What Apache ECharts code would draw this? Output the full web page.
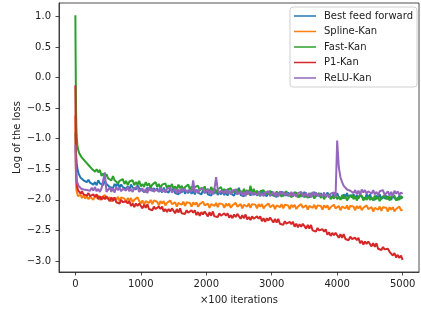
<!DOCTYPE html>
<html>
<head>
<meta charset="utf-8">
<script src="https://cdn.jsdelivr.net/npm/echarts@6/dist/echarts.min.js"></script>
<style>html,body{margin:0;padding:0;background:#fff}#c{width:421px;height:312px}</style>
</head>
<body>
<div id="c"></div>
<script>
const iterations = [0,5,10,15,20,30,40,50,60,80,100,125,150,175,200,225,
250,275,300,325,350,375,400,425,450,475,500,525,550,575,600,625,650,675,700,725,
750,775,800,825,850,875,900,925,950,975,1000,1025,1050,1075,1100,1125,1150,1175,1200,1225,
1250,1275,1300,1325,1350,1375,1400,1425,1450,1475,1500,1525,1550,1575,1600,1625,1650,1675,1700,1725,
1750,1775,1800,1825,1850,1875,1900,1925,1950,1975,2000,2025,2050,2075,2100,2125,2150,2175,2200,2225,
2250,2275,2300,2325,2350,2375,2400,2425,2450,2475,2500,2525,2550,2575,2600,2625,2650,2675,2700,2725,
2750,2775,2800,2825,2850,2875,2900,2925,2950,2975,3000,3025,3050,3075,3100,3125,3150,3175,3200,3225,
3250,3275,3300,3325,3350,3375,3400,3425,3450,3475,3500,3525,3550,3575,3600,3625,3650,3675,3700,3725,
3750,3775,3800,3825,3850,3875,3900,3925,3950,3975,4000,4025,4050,4075,4100,4125,4150,4175,4200,4225,
4250,4275,4300,4325,4350,4375,4400,4425,4450,4475,4500,4525,4550,4575,4600,4625,4650,4675,4700,4725,
4750,4775,4800,4825,4850,4875,4900,4925,4950,4975,5000];

const bestFeedForward = [-0.9,-1.1,-1.25,-1.33,-1.4,-1.48,-1.53,-1.57,-1.6,-1.64,-1.62,-1.68,-1.65,-1.71,-1.67,-1.72,
-1.69,-1.75,-1.71,-1.76,-1.68,-1.73,-1.70,-1.76,-1.69,-1.74, -1.72,-1.79,-1.76,-1.81,-1.74,-1.78,-1.72,-1.80,-1.75,-1.79,
-1.76,-1.82,-1.78,-1.83,-1.75,-1.80,-1.77,-1.83,-1.76,-1.81, -1.78,-1.85,-1.82,-1.87,-1.80,-1.84,-1.78,-1.86,-1.81,-1.85,
-1.81,-1.87,-1.83,-1.88,-1.80,-1.85,-1.82,-1.88,-1.81,-1.86, -1.82,-1.89,-1.86,-1.91,-1.84,-1.88,-1.82,-1.90,-1.85,-1.89,
-1.84,-1.90,-1.86,-1.91,-1.83,-1.88,-1.85,-1.91,-1.84,-1.89, -1.84,-1.91,-1.88,-1.93,-1.86,-1.90,-1.84,-1.92,-1.87,-1.91,
-1.86,-1.92,-1.88,-1.93,-1.85,-1.90,-1.87,-1.93,-1.86,-1.91, -1.80,-1.92,-1.89,-1.94,-1.87,-1.91,-1.85,-1.93,-1.88,-1.92,
-1.87,-1.93,-1.89,-1.94,-1.86,-1.91,-1.88,-1.94,-1.87,-1.92, -1.86,-1.93,-1.90,-1.95,-1.88,-1.92,-1.86,-1.94,-1.89,-1.93,
-1.88,-1.94,-1.90,-1.95,-1.87,-1.92,-1.89,-1.95,-1.88,-1.93, -1.87,-1.94,-1.91,-1.96,-1.89,-1.93,-1.87,-1.95,-1.90,-1.94,
-1.89,-1.95,-1.91,-1.96,-1.88,-1.93,-1.90,-1.96,-1.89,-1.94, -1.89,-1.96,-1.93,-1.98,-1.91,-1.95,-1.89,-1.97,-1.92,-1.96,
-1.91,-1.97,-1.93,-1.98,-1.90,-1.95,-1.92,-1.98,-1.91,-1.96, -1.91,-1.98,-1.95,-2.00,-1.93,-1.97,-1.91,-1.99,-1.94,-1.98,
-1.93,-1.99,-1.95,-2.00,-1.92,-1.97,-1.94,-2.00,-1.93,-1.98,-1.95];

const splineKan = [-0.62,-1.3,-1.7,-1.82,-1.86,-1.9,-1.94,-1.91,-1.96,-1.92,-1.97,-1.93,-1.98,-1.94,-1.99,-1.95,
-1.94,-2.00,-1.93,-1.97,-1.93,-2.00,-1.96,-1.99,-1.92,-1.98, -2.01,-1.96,-2.03,-1.97,-1.95,-2.00,-1.95,-2.02,-1.96,-1.99,
-1.98,-2.04,-1.97,-2.01,-1.97,-2.04,-2.00,-2.03,-1.96,-2.02, -2.06,-2.01,-2.08,-2.02,-2.00,-2.05,-2.00,-2.07,-2.01,-2.04,
-2.03,-2.09,-2.02,-2.06,-2.02,-2.09,-2.05,-2.08,-2.01,-2.07, -2.09,-2.04,-2.11,-2.05,-2.03,-2.08,-2.03,-2.10,-2.04,-2.07,
-2.05,-2.11,-2.04,-2.08,-2.04,-2.11,-2.07,-2.10,-2.03,-2.09, -2.11,-2.06,-2.13,-2.07,-2.05,-2.10,-2.05,-2.12,-2.06,-2.09,
-2.07,-2.13,-2.06,-2.10,-2.06,-2.13,-2.09,-2.12,-2.05,-2.11, -2.12,-2.07,-2.14,-2.08,-2.06,-2.11,-2.06,-2.13,-2.07,-2.10,
-2.08,-2.14,-2.07,-2.11,-2.07,-2.14,-2.10,-2.13,-2.06,-2.12, -2.13,-2.08,-2.15,-2.09,-2.07,-2.12,-2.07,-2.14,-2.08,-2.11,
-2.09,-2.15,-2.08,-2.12,-2.08,-2.15,-2.11,-2.14,-2.07,-2.13, -2.14,-2.09,-2.16,-2.10,-2.08,-2.13,-2.08,-2.15,-2.09,-2.12,
-2.10,-2.16,-2.09,-2.13,-2.09,-2.16,-2.12,-2.15,-2.08,-2.14, -2.15,-2.10,-2.17,-2.11,-2.09,-2.14,-2.09,-2.16,-2.10,-2.13,
-2.11,-2.17,-2.10,-2.14,-2.10,-2.17,-2.13,-2.16,-2.09,-2.15, -2.17,-2.12,-2.19,-2.13,-2.11,-2.16,-2.11,-2.18,-2.12,-2.15,
-2.13,-2.19,-2.12,-2.16,-2.12,-2.19,-2.15,-2.18,-2.11,-2.17,-2.16];

const fastKan = [1.02,0.2,-0.5,-0.8,-0.95,-1.1,-1.17,-1.2,-1.24,-1.26,-1.31,-1.32,-1.37,-1.36,-1.43,-1.42,
-1.49,-1.46,-1.54,-1.50,-1.55,-1.51,-1.61,-1.57,-1.62,-1.58, -1.65,-1.62,-1.68,-1.61,-1.68,-1.65,-1.73,-1.69,-1.72,-1.66,
-1.74,-1.69,-1.76,-1.70,-1.73,-1.68,-1.76,-1.71,-1.75,-1.69, -1.78,-1.74,-1.79,-1.71,-1.77,-1.73,-1.80,-1.75,-1.78,-1.71,
-1.79,-1.74,-1.81,-1.75,-1.78,-1.73,-1.81,-1.76,-1.80,-1.74, -1.82,-1.78,-1.83,-1.75,-1.81,-1.77,-1.84,-1.79,-1.82,-1.75,
-1.83,-1.78,-1.85,-1.79,-1.82,-1.77,-1.85,-1.80,-1.84,-1.78, -1.86,-1.82,-1.87,-1.79,-1.85,-1.81,-1.88,-1.83,-1.86,-1.79,
-1.87,-1.82,-1.89,-1.83,-1.86,-1.81,-1.89,-1.84,-1.88,-1.82, -1.89,-1.85,-1.90,-1.82,-1.88,-1.84,-1.91,-1.77,-1.89,-1.82,
-1.90,-1.85,-1.92,-1.86,-1.89,-1.84,-1.92,-1.87,-1.91,-1.85, -1.93,-1.89,-1.94,-1.86,-1.92,-1.88,-1.95,-1.90,-1.93,-1.86,
-1.94,-1.89,-1.96,-1.90,-1.93,-1.88,-1.96,-1.91,-1.95,-1.89, -1.96,-1.92,-1.97,-1.89,-1.95,-1.91,-1.98,-1.93,-1.96,-1.89,
-1.97,-1.92,-1.99,-1.93,-1.96,-1.91,-1.99,-1.94,-1.98,-1.92, -1.99,-1.95,-2.00,-1.92,-1.98,-1.94,-2.01,-1.96,-1.99,-1.92,
-1.99,-1.94,-2.01,-1.95,-1.98,-1.93,-2.01,-1.96,-2.00,-1.94, -2.00,-1.96,-2.01,-1.93,-1.99,-1.95,-2.02,-1.97,-2.00,-1.93,
-1.99,-1.94,-2.01,-1.95,-1.98,-1.93,-2.01,-1.96,-2.00,-1.94,-1.97];

const p1Kan = [-0.13,-0.9,-1.3,-1.55,-1.7,-1.8,-1.84,-1.87,-1.84,-1.9,-1.86,-1.91,-1.88,-1.93,-1.89,-1.94,
-1.96,-1.91,-1.95,-1.91,-1.99,-1.94,-2.00,-1.95,-1.99,-1.94, -1.97,-2.02,-1.96,-2.02,-1.96,-2.04,-2.01,-2.06,-2.00,-2.04,
-2.07,-2.02,-2.06,-2.02,-2.10,-2.06,-2.12,-2.06,-2.10,-2.06, -2.09,-2.14,-2.08,-2.13,-2.07,-2.15,-2.12,-2.17,-2.11,-2.15,
-2.17,-2.11,-2.15,-2.11,-2.19,-2.15,-2.20,-2.15,-2.19,-2.14, -2.17,-2.22,-2.15,-2.21,-2.14,-2.22,-2.19,-2.23,-2.17,-2.21,
-2.23,-2.17,-2.21,-2.17,-2.25,-2.20,-2.26,-2.20,-2.24,-2.19, -2.22,-2.27,-2.20,-2.26,-2.19,-2.27,-2.24,-2.28,-2.22,-2.26,
-2.28,-2.22,-2.26,-2.22,-2.29,-2.25,-2.30,-2.24,-2.28,-2.23, -2.26,-2.31,-2.25,-2.30,-2.24,-2.32,-2.28,-2.33,-2.27,-2.31,
-2.33,-2.27,-2.31,-2.27,-2.35,-2.30,-2.36,-2.30,-2.34,-2.29, -2.32,-2.37,-2.31,-2.37,-2.31,-2.39,-2.36,-2.41,-2.35,-2.39,
-2.41,-2.36,-2.40,-2.36,-2.44,-2.39,-2.45,-2.40,-2.44,-2.39, -2.42,-2.47,-2.41,-2.47,-2.41,-2.50,-2.47,-2.52,-2.46,-2.50,
-2.53,-2.48,-2.52,-2.48,-2.57,-2.53,-2.59,-2.54,-2.58,-2.54, -2.57,-2.62,-2.56,-2.62,-2.56,-2.64,-2.61,-2.66,-2.60,-2.64,
-2.67,-2.62,-2.66,-2.62,-2.71,-2.67,-2.73,-2.68,-2.72,-2.68, -2.71,-2.76,-2.71,-2.77,-2.71,-2.80,-2.77,-2.82,-2.77,-2.81,
-2.84,-2.80,-2.85,-2.82,-2.91,-2.87,-2.94,-2.90,-2.95,-2.91,-2.98];

const reluKan = [-1.1,-1.4,-1.55,-1.63,-1.68,-1.72,-1.75,-1.77,-1.79,-1.81,-1.78,-1.83,-1.80,-1.84,-1.81,-1.85,
-1.80,-1.85,-1.79,-1.86,-1.82,-1.87,-1.81,-1.84,-1.55,-1.87, -1.85,-1.80,-1.87,-1.81,-1.88,-1.79,-1.84,-1.80,-1.86,-1.82,
-1.80,-1.85,-1.79,-1.86,-1.82,-1.87,-1.81,-1.84,-1.79,-1.87, -1.86,-1.81,-1.88,-1.82,-1.89,-1.80,-1.85,-1.81,-1.87,-1.83,
-1.81,-1.86,-1.80,-1.87,-1.83,-1.88,-1.82,-1.85,-1.80,-1.88, -1.87,-1.82,-1.89,-1.83,-1.90,-1.81,-1.86,-1.82,-1.88,-1.84,
-1.82,-1.87,-1.68,-1.88,-1.84,-1.89,-1.83,-1.86,-1.81,-1.89, -1.88,-1.83,-1.90,-1.84,-1.91,-1.82,-1.63,-1.83,-1.89,-1.85,
-1.84,-1.89,-1.83,-1.90,-1.86,-1.91,-1.85,-1.88,-1.83,-1.91, -1.91,-1.86,-1.93,-1.87,-1.94,-1.85,-1.90,-1.86,-1.92,-1.88,
-1.87,-1.92,-1.86,-1.93,-1.89,-1.94,-1.88,-1.91,-1.86,-1.94, -1.92,-1.87,-1.94,-1.88,-1.95,-1.86,-1.91,-1.87,-1.93,-1.89,
-1.88,-1.93,-1.87,-1.94,-1.90,-1.95,-1.89,-1.92,-1.87,-1.95, -1.93,-1.88,-1.95,-1.89,-1.96,-1.87,-1.92,-1.88,-1.94,-1.90,
-1.89,-1.94,-1.88,-1.95,-1.91,-1.96,-1.90,-1.93,-1.88,-1.96, -1.03,-1.47,-1.63,-1.71,-1.77,-1.79,-1.83,-1.81,-1.85,-1.83,
-1.89,-1.84,-1.91,-1.85,-1.92,-1.83,-1.88,-1.84,-1.90,-1.86, -1.85,-1.90,-1.84,-1.91,-1.87,-1.92,-1.86,-1.89,-1.84,-1.92,
-1.91,-1.86,-1.93,-1.87,-1.94,-1.85,-1.90,-1.86,-1.92,-1.88,-1.90];

const seriesNames = ['Best feed forward','Spline-Kan','Fast-Kan','P1-Kan','ReLU-Kan'];
const seriesValues = [bestFeedForward, splineKan, fastKan, p1Kan, reluKan];
const seriesColors = ['#1f77b4','#ff7f0e','#2ca02c','#d62728','#9467bd'];
const xTicks = [0,1000,2000,3000,4000,5000];
const yTicks = [-3.0,-2.5,-2.0,-1.5,-1.0,-0.5,0.0,0.5,1.0];

seriesValues.forEach((s, k) => { if (s.length !== iterations.length) console.error(seriesNames[k], s.length, iterations.length); });

const font = 'DejaVu Sans';
const txt = '#222';
const chart = echarts.init(document.getElementById('c'), null, {renderer:'canvas'});
chart.setOption({
  animation: false,
  backgroundColor: '#fff',
  textStyle: {fontFamily: font},
  grid: {left: 59, right: 2, top: 3, bottom: 40, show: true, borderColor: '#222', borderWidth: 0.8,
    containLabel: false, outerBoundsMode: 'none'},
  legend: {
    orient: 'vertical', right: 4, top: 7, icon: 'rect',
    padding: [3, 4, 3, 4], itemGap: 3.5, itemWidth: 22, itemHeight: 1.5,
    backgroundColor: 'rgba(255,255,255,0.8)', borderColor: '#d0d0d0', borderWidth: 1, borderRadius: 3,
    textStyle: {fontFamily: font, fontSize: 10, color: txt, lineHeight: 12, padding: [0,0,0,3]},
    data: seriesNames
  },
  xAxis: {
    type: 'value', min: -250, max: 5250,
    name: '×100 iterations', nameLocation: 'middle', nameGap: 23,
    nameTextStyle: {fontFamily: font, fontSize: 10, color: txt},
    axisLine: {show: true, onZero: false, lineStyle: {color: '#222', width: 0.8}},
    axisTick: {show: true, length: 3.5, customValues: xTicks, lineStyle: {color: '#222', width: 0.8}},
    axisLabel: {customValues: xTicks, fontFamily: font, fontSize: 10, color: txt, margin: 7,
      formatter: v => String(v)},
    splitLine: {show: false}
  },
  yAxis: {
    type: 'value', min: -3.18, max: 1.22,
    name: 'Log of the loss', nameLocation: 'middle', nameGap: 37, nameMoveOverlap: false,
    nameTextStyle: {fontFamily: font, fontSize: 10, color: txt},
    axisLine: {show: true, onZero: false, lineStyle: {color: '#222', width: 0.8}},
    axisTick: {show: true, length: 3.5, customValues: yTicks, lineStyle: {color: '#222', width: 0.8}},
    axisLabel: {customValues: yTicks, fontFamily: font, fontSize: 10, color: txt, margin: 8,
      formatter: v => v.toFixed(1).replace('-', '\u2212')},
    splitLine: {show: false}
  },
  series: seriesNames.map((n, k) => ({
    name: n, type: 'line', symbol: 'none', showSymbol: false,
    data: iterations.map((x, i) => [x, seriesValues[k][i]]),
    lineStyle: {color: seriesColors[k], width: 2},
    itemStyle: {color: seriesColors[k]},
    z: 2 + k
  }))
});
</script>
</body>
</html>
